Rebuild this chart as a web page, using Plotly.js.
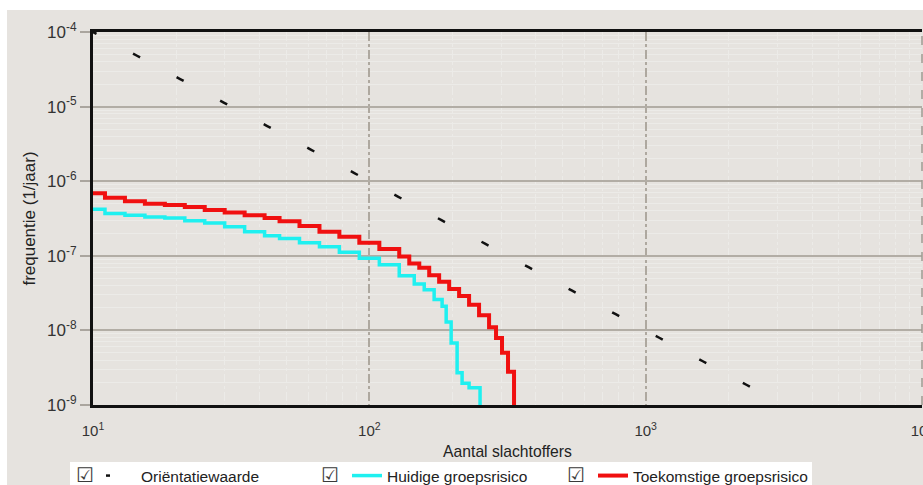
<!DOCTYPE html>
<html><head><meta charset="utf-8">
<script src="https://cdn.plot.ly/plotly-3.0.1.min.js"></script>
<style>html,body{margin:0;padding:0;background:#fff;} #chart{width:923px;height:485px;}</style>
</head><body><div id="chart"></div>
<script>
// Oriëntatiewaarde: 10^-2 / N^2
const orientatieN = [10, 100, 1000, 3162];
const orientatieF = [1e-4, 1e-6, 1e-8, 1e-9];

// Huidige groepsrisico (FN step curve)
const huidigeN = [10, 11.05, 13.05, 15.41, 18.2, 21.49, 25.37, 29.96, 35.38, 41.78, 47.33, 55.88, 66.0, 77.9, 92.0, 108.7, 128.3, 145.4, 158.0, 171.6, 183.4, 189.7, 197.7, 207.8, 216.6, 229.6, 251.6];
const huidigeF = [4.2e-7, 3.7e-7, 3.5e-7, 3.3e-7, 3.2e-7, 2.95e-7, 2.75e-7, 2.45e-7, 2.1e-7, 1.86e-7, 1.7e-7, 1.5e-7, 1.32e-7, 1.12e-7, 9.3e-8, 7.6e-8, 5.4e-8, 4.2e-8, 3.5e-8, 2.6e-8, 2.1e-8, 1.3e-8, 6.8e-9, 2.7e-9, 1.95e-9, 1.7e-9, 3e-10];

// Toekomstige groepsrisico (FN step curve)
const toekomstN = [10, 11.05, 13.05, 15.41, 18.2, 21.49, 25.37, 29.96, 35.38, 41.78, 47.33, 55.88, 66.0, 77.9, 92.0, 108.7, 128.3, 139.5, 151.6, 164.7, 178.9, 194.5, 211.3, 229.6, 249.5, 271.2, 287.4, 302.1, 317.6, 333.9];
const toekomstF = [6.9e-7, 6.0e-7, 5.4e-7, 5.0e-7, 4.8e-7, 4.5e-7, 4.1e-7, 3.8e-7, 3.5e-7, 3.2e-7, 2.9e-7, 2.5e-7, 2.1e-7, 1.8e-7, 1.5e-7, 1.23e-7, 9.8e-8, 7.9e-8, 6.9e-8, 5.5e-8, 4.5e-8, 3.6e-8, 2.9e-8, 2.2e-8, 1.6e-8, 1.1e-8, 7.9e-9, 5.0e-9, 2.8e-9, 3e-10];

const xTickVals = [10, 100, 1000, 10000];
const xTickText = ['10<sup>1</sup>', '10<sup>2</sup>', '10<sup>3</sup>', '10<sup>4</sup>'];
const yTickVals = [1e-9, 1e-8, 1e-7, 1e-6, 1e-5, 1e-4];
const yTickText = ['10<sup>-9</sup>', '10<sup>-8</sup>', '10<sup>-7</sup>', '10<sup>-6</sup>', '10<sup>-5</sup>', '10<sup>-4</sup>'];

const seriesNames = ['Oriëntatiewaarde', 'Huidige groepsrisico', 'Toekomstige groepsrisico'];

const FONT = 'Liberation Sans, Arial, sans-serif';
const BG = '#e6e3df';

const traces = [
  {x: orientatieN, y: orientatieF, name: seriesNames[0], mode: 'lines',
   line: {color: '#111', width: 2.5, dash: '4px,41.5px,4px,0px'}},
  {x: huidigeN, y: huidigeF, name: seriesNames[1], mode: 'lines',
   line: {color: '#1ff0f0', width: 3.5, shape: 'hv'}},
  {x: toekomstN, y: toekomstF, name: seriesNames[2], mode: 'lines',
   line: {color: '#f01010', width: 4, shape: 'hv'}}
];

const W = 923, H = 485, L = 93, R = 1, T = 32, B = 80;
const pw = W - L - R, ph = H - T - B;
const px2x = p => (p - L) / pw;
const py2y = p => (H - B - p) / ph;

const layout = {
  width: W, height: H,
  margin: {l: L, r: R, t: T, b: B, autoexpand: false},
  paper_bgcolor: '#ffffff',
  plot_bgcolor: '#e8e5e1',
  font: {family: FONT, size: 15, color: '#333'},
  showlegend: true,
  legend: {orientation: 'h', x: px2x(101), xanchor: 'left', y: py2y(459), yanchor: 'top',
           bgcolor: 'rgba(0,0,0,0)', entrywidth: 201, entrywidthmode: 'pixels',
           font: {family: FONT, size: 15.5, color: '#222'}},
  xaxis: {
    type: 'log', range: [1, 4],
    tickvals: xTickVals, ticktext: xTickText,
    ticks: '', ticklabelstandoff: 10, ticklabeloverflow: 'allow',
    showline: true, linecolor: '#111', linewidth: 3, mirror: true,
    showgrid: true, gridcolor: '#aea89f', gridwidth: 2, griddash: 'dashdot',
    zeroline: false,
    tickfont: {family: FONT, size: 15, color: '#333'},
    minor: {dtick: 'D1', showgrid: true, gridcolor: '#ecebe8', gridwidth: 1},
    title: {text: 'Aantal slachtoffers', font: {family: FONT, size: 15.7, color: '#222'}, standoff: 9}
  },
  yaxis: {
    type: 'log', range: [-9, -4],
    tickvals: yTickVals, ticktext: yTickText,
    ticks: 'outside', ticklen: 10, tickwidth: 2, tickcolor: '#aaa59e',
    showline: true, linecolor: '#111', linewidth: 3, mirror: false,
    showgrid: true, gridcolor: '#b2ada5', gridwidth: 2,
    zeroline: false,
    tickfont: {family: FONT, size: 17, color: '#333'},
    minor: {dtick: 'D1', showgrid: true, gridcolor: '#ecebe8', gridwidth: 1},
    title: {text: 'frequentie (1/jaar)', font: {family: FONT, size: 17, color: '#222'}, standoff: 8}
  },
  shapes: [
    {type: 'rect', xref: 'paper', yref: 'paper', layer: 'below',
     x0: px2x(7), x1: px2x(925), y0: py2y(490), y1: py2y(10),
     fillcolor: BG, line: {width: 0}},
    {type: 'rect', xref: 'paper', yref: 'paper', layer: 'below',
     x0: px2x(70), x1: px2x(812), y0: py2y(490), y1: py2y(462),
     fillcolor: '#ffffff', line: {width: 0}},
    {type: 'line', xref: 'paper', yref: 'paper', x0: 1, x1: 1, y0: 0, y1: 1,
     line: {color: '#a09a92', width: 1.5, dash: 'dash'}}
  ],
  annotations: [
    {xref: 'paper', yref: 'paper', x: px2x(74), y: py2y(475), xanchor: 'left', yanchor: 'middle',
     text: '☑', showarrow: false, font: {family: 'DejaVu Sans', size: 20, color: '#3a3a3a'}},
    {xref: 'paper', yref: 'paper', x: px2x(319), y: py2y(475), xanchor: 'left', yanchor: 'middle',
     text: '☑', showarrow: false, font: {family: 'DejaVu Sans', size: 20, color: '#3a3a3a'}},
    {xref: 'paper', yref: 'paper', x: px2x(565), y: py2y(475), xanchor: 'left', yanchor: 'middle',
     text: '☑', showarrow: false, font: {family: 'DejaVu Sans', size: 20, color: '#3a3a3a'}}
  ]
};

Plotly.newPlot('chart', traces, layout, {displayModeBar: false, staticPlot: true});
</script>
</body></html>
